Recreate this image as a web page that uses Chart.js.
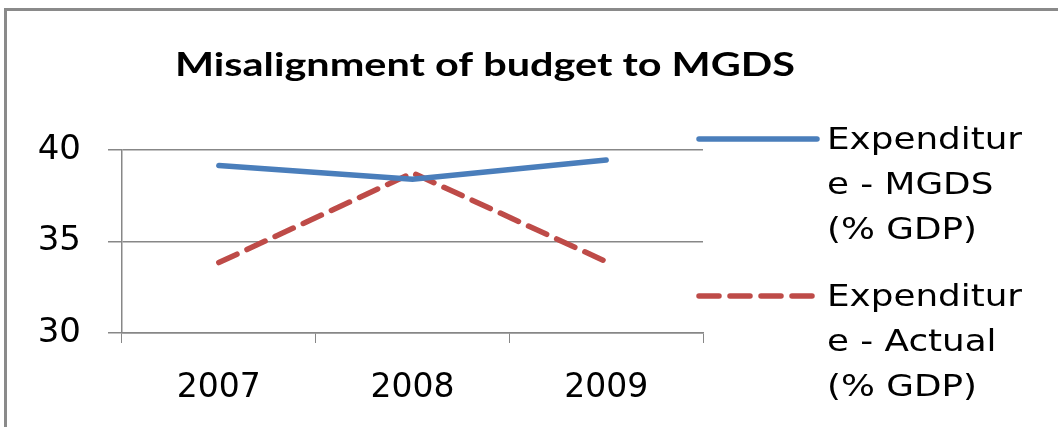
<!DOCTYPE html>
<html>
<head>
<meta charset="utf-8">
<script src="https://cdn.jsdelivr.net/npm/chart.js@4.4.1/dist/chart.umd.min.js"></script>
<style>
  html, body { margin: 0; padding: 0; background: #fff; }
  #wrap { position: relative; width: 1058px; height: 427px; overflow: hidden; }
  #frame { position: absolute; left: 4px; top: 8px; width: 1200px; height: 600px;
           border-left: 3px solid #8a8a8a; border-top: 3px solid #8a8a8a; }
  canvas { position: absolute; left: 0; top: 0; }
</style>
</head>
<body>
<div id="wrap">
  <div id="frame"></div>
  <canvas id="chart" width="1058" height="427"></canvas>
</div>
<script>
  // chart data
  const years = ["2007", "2008", "2009"];
  const mgds = [39.15, 38.4, 39.45];
  const actual = [33.85, 38.75, 33.9];
  const yTicks = [30, 35, 40];

  const titleText = "Misalignment of budget to MGDS";
  const legendLines = [
    ["Expenditur", "e - MGDS", "(% GDP)"],
    ["Expenditur", "e - Actual", "(% GDP)"]
  ];

  const gridCol = "#878787";
  const fontFam = "'DejaVu Sans', Verdana, sans-serif";

  // draws the title and the right-hand legend (wrapped text)
  const extras = {
    id: "extras",
    afterDraw(chart) {
      const ctx = chart.ctx;
      ctx.save();
      ctx.fillStyle = "#000";
      ctx.textBaseline = "middle";

      // title, stretched a bit like the original
      ctx.font = "bold 32px Lato, 'Open Sans', sans-serif";
      let w = ctx.measureText(titleText).width;
      let sx = 620 / w;
      ctx.save();
      ctx.translate(175, 66);
      ctx.scale(sx, 1);
      ctx.fillText(titleText, 0, 0);
      ctx.restore();

      // legend
      const x0 = chart.chartArea.right - 6;
      const tops = [139, 296];
      ctx.font = "30px " + fontFam;
      const lsx = 195 / ctx.measureText("Expenditur").width;
      chart.data.datasets.forEach((ds, i) => {
        const y = tops[i];
        ctx.beginPath();
        ctx.strokeStyle = ds.borderColor;
        ctx.lineWidth = ds.borderWidth;
        ctx.lineCap = "round";
        ctx.setLineDash(ds.borderDash || []);
        ctx.moveTo(x0 + 2, y);
        ctx.lineTo(x0 + 120, y);
        ctx.stroke();
        ctx.setLineDash([]);
        legendLines[i].forEach((t, j) => {
          ctx.save();
          ctx.translate(x0 + 130, y + 2 + j * 45);
          ctx.scale(lsx, 1);
          ctx.fillText(t, 0, 0);
          ctx.restore();
        });
      });
      ctx.restore();
    }
  };

  new Chart(document.getElementById("chart"), {
    type: "line",
    data: {
      labels: years,
      datasets: [
        {
          label: "Expenditure - MGDS (% GDP)",
          data: mgds,
          borderColor: "#4A7EBB",
          borderWidth: 5.5,
          pointRadius: 0,
          tension: 0,
          borderCapStyle: "round"
        },
        {
          label: "Expenditure - Actual (% GDP)",
          data: actual,
          borderColor: "#BE4B48",
          borderWidth: 5.5,
          borderDash: [20, 11],
          pointRadius: 0,
          tension: 0,
          borderCapStyle: "round"
        }
      ]
    },
    options: {
      responsive: false,
      animation: false,
      layout: { padding: { top: 150, right: 355, bottom: 0, left: 0 } },
      plugins: {
        legend: { display: false },
        title: { display: false },
        tooltip: { enabled: false }
      },
      scales: {
        x: {
          offset: true,
          afterFit(scale) { scale.height = 94; },
          grid: {
            offset: true,
            drawOnChartArea: false,
            color: gridCol,
            tickLength: 10
          },
          border: { color: gridCol, width: 1.5 },
          ticks: {
            color: "#000",
            padding: 26,
            maxRotation: 0,
            font: { family: fontFam, size: 33 }
          }
        },
        y: {
          min: 30,
          max: 40,
          afterFit(scale) { scale.width = 122; },
          afterBuildTicks(scale) { scale.ticks = yTicks.map(v => ({ value: v })); },
          grid: { color: gridCol, lineWidth: 1.5, tickLength: 14 },
          border: { color: gridCol, width: 1.5 },
          ticks: {
            color: "#000",
            padding: 27,
            font: { family: fontFam, size: 34 }
          }
        }
      }
    },
    plugins: [extras]
  });
</script>
</body>
</html>
